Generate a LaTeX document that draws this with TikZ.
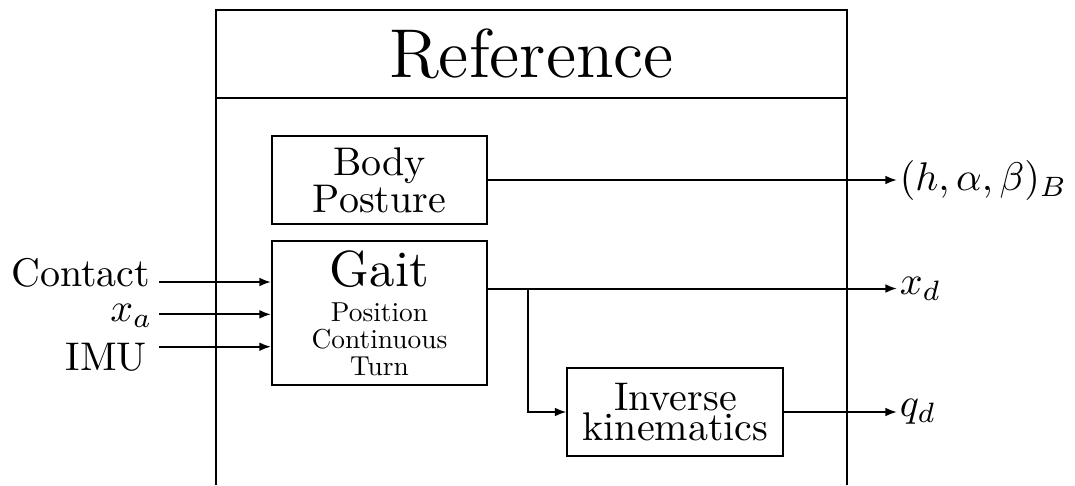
\documentclass[tikz,border=0pt]{standalone}
\usepackage{fontspec}
\newfontfamily\lmten{lmroman10-regular.otf}
\newfontfamily\lmtwelve{lmroman12-regular.otf}
\usetikzlibrary{arrows.meta}
\DeclareRobustCommand\tightls{\lineskip=0.3pt\relax}
\begin{document}
\begin{tikzpicture}[x=0.25pt,y=-0.25pt,
  blk/.style={draw, line width=0.5pt, inner sep=0pt, align=center,
    font=\lmten\fontsize{10}{0.1}\selectfont\tightls},
  arr/.style={line width=0.5pt, -{Latex[length=2.9pt,width=2.2pt]}},
  lbl/.style={inner sep=0pt, font=\lmten\fontsize{10}{12}\selectfont},
  frame/.style={line width=0.5pt},
]
\useasboundingbox (0,0) rectangle (1075,485);
% outer frame
\draw[frame] (216,485) -- (216,10) -- (847,10) -- (847,485);
\draw[frame] (216,98) -- (847,98);
\node[font=\lmtwelve\fontsize{17.28}{17.28}\selectfont, inner sep=0pt] (title) at (531.5,54) {Reference};
% blocks
\node[blk, minimum width=53.75pt, minimum height=22pt] (body) at (379.5,180) {Body\\Posture};
\node[blk, minimum width=53.75pt, minimum height=36pt,
  font=\lmten\fontsize{6.85}{6.75}\selectfont\tightls] (gait) at (379.5,313)
  {{\fontsize{12.7}{12.7}\selectfont Gait}\\[2.1pt]Position\\Continuous\\Turn};
\node[blk, minimum width=54pt, minimum height=22pt] (ik) at (675.5,412) {Inverse\\kinematics};
% outputs
\node[lbl, anchor=west, inner sep=0.5pt] (hab) at (897,180) {$(h,\alpha,\beta)_B$};
\node[lbl, anchor=west, inner sep=0.5pt] (xd) at (897,288.5) {$x_d$};
\node[lbl, anchor=west, inner sep=0.5pt] (qd) at (897,412) {$q_d$};
\coordinate (gout) at ([yshift=6.125pt]gait.east);
\coordinate (br) at ([xshift=10pt]gout);
\draw[arr] (body.east) -- (hab.west);
\draw[arr] (gout) -- (xd.west);
\draw[arr] (br) |- (ik.west);
\draw[arr] (ik.east) -- (qd.west);
% inputs
\coordinate (iC) at ([yshift=7.75pt]gait.west);
\coordinate (iX) at ([yshift=-0.33pt]gait.west);
\coordinate (iI) at ([yshift=-8.43pt]gait.west);
\coordinate (sC) at ([xshift=-27.875pt]iC);
\coordinate (sX) at ([xshift=-27.875pt]iX);
\coordinate (sI) at ([xshift=-27.875pt]iI);
\node[lbl, anchor=base east] (lc) at ([shift={(-2.125pt,-1.175pt)}]sC) {Contact};
\node[lbl, anchor=base east] (lx) at ([shift={(-1.55pt,-1.85pt)}]sX) {$x_a$};
\node[lbl, anchor=base east] (li) at ([shift={(-3pt,-5.83pt)}]sI) {IMU};
\draw[arr] (sC) -- (iC);
\draw[arr] (sX) -- (iX);
\draw[arr] (sI) -- (iI);
\end{tikzpicture}
\end{document}
